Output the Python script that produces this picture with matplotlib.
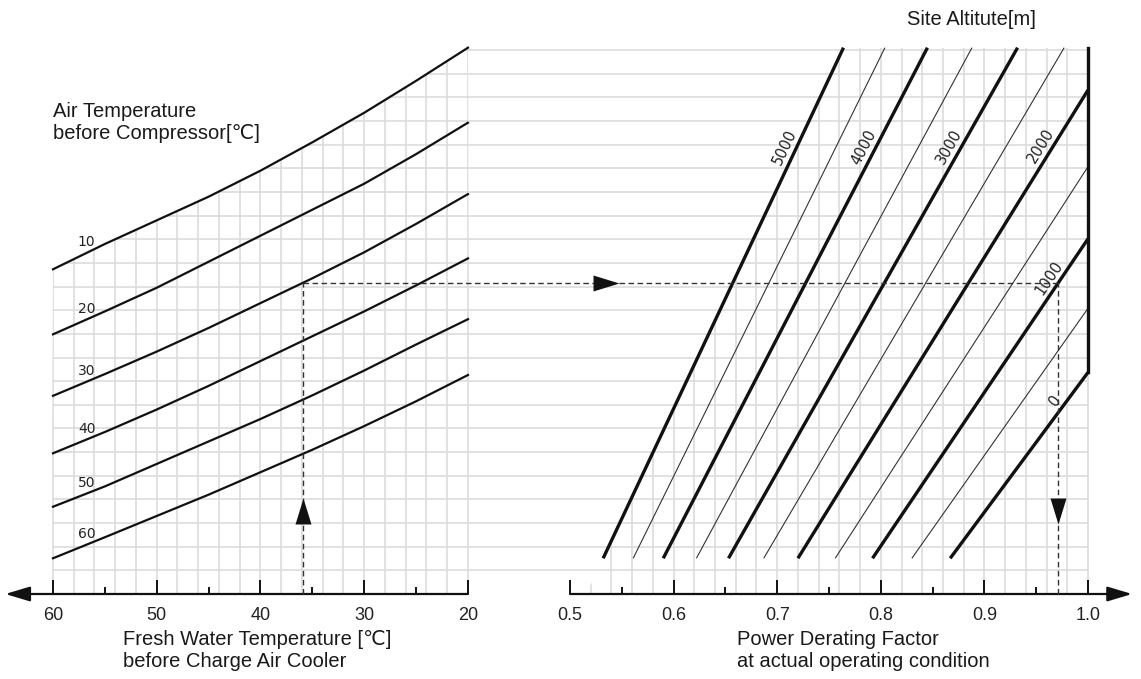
import numpy as np
import matplotlib
matplotlib.use("Agg")
import matplotlib.pyplot as plt
from matplotlib.patches import Polygon

plt.rcParams['font.family'] = ['Liberation Sans', 'DejaVu Sans']

# left chart: fresh water temperature -> chart row, one curve per air temperature
water_temp = [60, 55, 50, 45, 40, 35, 30, 25, 20]
air_temp = [10, 20, 30, 40, 50, 60]
row_air10 = [13.73, 14.8, 15.8, 16.8, 17.9, 19.1, 20.35, 21.7, 23.1]
row_air20 = [10.98, 11.95, 12.95, 14.05, 15.15, 16.25, 17.35, 18.6, 19.93]
row_air30 = [8.38, 9.3, 10.25, 11.25, 12.3, 13.35, 14.45, 15.65, 16.91]
row_air40 = [5.95, 6.85, 7.8, 8.8, 9.85, 10.9, 11.95, 13.05, 14.19]
row_air50 = [3.69, 4.55, 5.5, 6.45, 7.4, 8.4, 9.45, 10.55, 11.62]
row_air60 = [1.51, 2.4, 3.3, 4.2, 5.15, 6.1, 7.1, 8.15, 9.26]
air_rows = [row_air10, row_air20, row_air30, row_air40, row_air50, row_air60]

# right chart: one straight line per site altitude (bottom end -> upper end)
altitude = [5000, 4500, 4000, 3500, 3000, 2500, 2000, 1500, 1000, 500, 0]
factor_low = [0.532, 0.561, 0.590, 0.622, 0.653, 0.687, 0.720, 0.756, 0.792, 0.830, 0.867]
factor_high = [0.764, 0.804, 0.845, 0.888, 0.932, 0.977, 1.0, 1.0, 1.0, 1.0, 1.0]
row_low = [1.51, 1.51, 1.51, 1.51, 1.51, 1.51, 1.51, 1.51, 1.51, 1.51, 1.51]
row_high = [23.1, 23.1, 23.1, 23.1, 23.1, 23.1, 21.31, 18.07, 15.02, 12.08, 9.37]
label_alt = [5000, 4000, 3000, 2000, 1000, 0]
label_row = [18.9, 18.9, 18.9, 18.95, 13.35, 8.2]

# worked example (dashed path)
ex_water = 35.9
ex_row = 13.16
ex_factor = 0.971

left_ticks = [60, 50, 40, 30, 20]
left_minor = [55, 45, 35, 25]
right_ticks = [0.5, 0.6, 0.7, 0.8, 0.9, 1.0]
right_minor = [0.55, 0.65, 0.75, 0.85, 0.95]

W, H = 1141, 679
fig = plt.figure(figsize=(W / 100, H / 100), dpi=100)

# pixel layout of the nomogram
px_axis, px_row = 594.0, 23.65
px_60, px_deg = 53.0, 10.375
px_05, px_unit = 570.0, 1036.0
top_row = 23.1

axL = fig.add_axes([0, 0, 1, 1])
axR = fig.add_axes([0, 0, 1, 1])
for ax in (axL, axR):
    ax.patch.set_alpha(0)
    ax.set_ylim((px_axis - H) / px_row, px_axis / px_row)
    for s in ('left', 'top', 'right', 'bottom'):
        ax.spines[s].set_visible(False)
    ax.spines['bottom'].set_position(('data', 0))
    ax.set_yticks([])
axL.set_xlim(60 + px_60 / px_deg, 60 - (W - px_60) / px_deg)
axR.set_xlim(0.5 - px_05 / px_unit, 0.5 + (W - px_05) / px_unit)


def l2r(x, y):
    return axR.transData.inverted().transform(axL.transData.transform((x, y)))[0]


grid_c = '#dcdcdc'
rows = np.arange(1, 24)

# left grid, only below the 10 degC curve
left_clip = Polygon(list(zip(water_temp, row_air10)) + [(19.8, 0), (60.2, 0)],
                    closed=True, transform=axL.transData)
g = axL.vlines(np.arange(20, 61, 2), 0, top_row, colors=grid_c, lw=1.2, zorder=1)
g.set_clip_path(left_clip)
g = axL.hlines(rows, 20, 60, colors=grid_c, lw=1.2, zorder=1)
g.set_clip_path(left_clip)

# right grid, right of the 5000 m line
f0 = factor_low[0] - row_low[0] * (factor_high[0] - factor_low[0]) / (row_high[0] - row_low[0])
right_clip = Polygon([(f0, 0), (factor_high[0], top_row), (1.003, top_row), (1.003, 0)],
                     closed=True, transform=axR.transData)
g = axR.vlines(np.linspace(0.5, 1.0, 26), 0, top_row, colors=grid_c, lw=1.2, zorder=1)
g.set_clip_path(right_clip)
axR.hlines(rows, l2r(20, 0), 1.0, colors=grid_c, lw=1.2, zorder=1)

# air temperature curves
for t, r in zip(air_temp, air_rows):
    axL.plot(water_temp, r, color='#111111', lw=1.6, zorder=3)
    yl = np.interp(56.75, water_temp[::-1], r[::-1])
    axL.annotate(str(t), (56.75, yl), xytext=(0, 7.5), textcoords='offset points',
                 ha='center', va='center', fontsize=10, family='DejaVu Sans', color='#222222')

# altitude lines
for a, fl, fh, rl, rh in zip(altitude, factor_low, factor_high, row_low, row_high):
    thick = a % 1000 == 0
    axR.plot([fl, fh], [rl, rh], color='#111111' if thick else '#333333',
             lw=2.4 if thick else 0.8, zorder=3, solid_capstyle='butt')
axR.plot([1.0, 1.0], [row_high[-1], top_row], color='#111111', lw=2.4, zorder=3)

for a, r in zip(label_alt, label_row):
    i = altitude.index(a)
    fl, fh, rl, rh = factor_low[i], factor_high[i], row_low[i], row_high[i]
    p1 = axR.transData.transform((fl, rl))
    p2 = axR.transData.transform((fh, rh))
    ang = np.degrees(np.arctan2(p2[1] - p1[1], p2[0] - p1[0]))
    f = fl + (r - rl) / (rh - rl) * (fh - fl)
    axR.annotate(str(a), (f, r), xytext=(-9, 0), textcoords='offset points',
                 rotation=ang, rotation_mode='anchor', ha='center', va='center',
                 fontsize=10.5, family='DejaVu Sans', color='#222222')

# dashed example path with arrow heads
dash = dict(color='#333333', lw=1.0, dashes=(4, 2.5), zorder=4)
axL.plot([ex_water, ex_water], [0, ex_row], **dash)
axR.plot([l2r(ex_water, ex_row), ex_factor], [ex_row, ex_row], **dash)
axR.plot([ex_factor, ex_factor], [0, ex_row], **dash)

tri_up = [(0, 1), (-0.615, -1), (0.615, -1)]
tri_down = [(0, -1), (-0.615, 1), (0.615, 1)]
tri_right = [(1, 0), (-1, 0.615), (-1, -0.615)]
mk = dict(ms=18.7, color='#111111', mew=0, zorder=5, ls='none')
axL.plot([ex_water], [3.5], marker=tri_up, **mk)
axR.plot([ex_factor], [3.5], marker=tri_down, **mk)
axR.plot([0.5347], [ex_row], marker=tri_right, **mk)

# horizontal axes with arrows
arr = dict(arrowstyle='-|>,head_length=1.0,head_width=0.3', mutation_scale=15,
           lw=1.6, color='#111111', shrinkA=0, shrinkB=0)
axL.annotate('', xy=(64.6, 0), xytext=(20, 0), arrowprops=arr)
axR.annotate('', xy=(1.0425, 0), xytext=(0.5, 0), arrowprops=arr)

tick_font = ['Liberation Sans', 'DejaVu Sans']
axL.set_xticks(left_ticks, labels=[str(v) for v in left_ticks], fontsize=13, family=tick_font)
axL.set_xticks(left_minor, minor=True)
axR.set_xticks(right_ticks, labels=['%.1f' % v for v in right_ticks], fontsize=13, family=tick_font)
axR.set_xticks(right_minor, minor=True)
for ax in (axL, axR):
    ax.tick_params(axis='x', which='major', direction='in', length=10, width=1.4,
                   color='#111111', labelcolor='#222222', pad=9)
    ax.tick_params(axis='x', which='minor', direction='in', length=5, width=1.4, color='#111111')

txt = dict(fontsize=14.5, color='#1a1a1a', ha='left', va='top', linespacing=1.2)
fig.text(53 / W, 1 - 102 / H, 'Air Temperature\nbefore Compressor[\u2103]', **txt)
fig.text(123 / W, 1 - 630 / H, 'Fresh Water Temperature [\u2103]\nbefore Charge Air Cooler', **txt)
fig.text(737 / W, 1 - 630 / H, 'Power Derating Factor\nat actual operating condition', **txt)
fig.text(907 / W, 1 - 10 / H, 'Site Altitute[m]', **txt)

fig.savefig('out.png', dpi=100)
